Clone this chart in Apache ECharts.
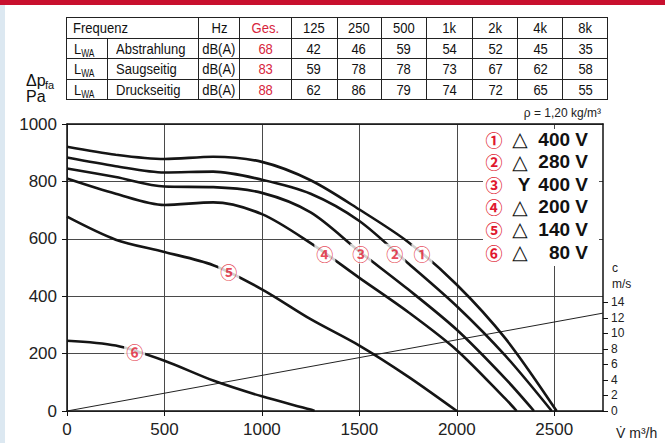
<!DOCTYPE html>
<html><head><meta charset="utf-8">
<script src="https://cdn.jsdelivr.net/npm/echarts@6/dist/echarts.min.js"></script>
<style>
html,body{margin:0;padding:0;background:#fff;}
#wrap{position:relative;width:665px;height:443px;overflow:hidden;background:#fff;}
#chart{position:absolute;left:0;top:0;width:665px;height:443px;}
#tbl{position:absolute;left:65.5px;top:17px;border-collapse:collapse;table-layout:fixed;
  font-family:"Liberation Sans",Arial,sans-serif;font-size:15.5px;color:#111;z-index:2;}
#tbl td{border:1.2px solid #222;padding:0;height:19.6px;text-align:center;line-height:19px;white-space:nowrap;overflow:hidden;}
#tbl td span{display:inline-block;transform:scaleX(0.84);transform-origin:center;}
#tbl td.l{text-align:left;padding-left:6px;}
#tbl td.l span{transform-origin:left center;}
#tbl td.red{color:#d7263d;}
#tbl sub{font-size:10px;vertical-align:-3px;line-height:0;}
</style></head>
<body><div id="wrap"><div id="chart"></div><table id="tbl"></table></div>
<script>
// ---------- table data ----------
const tableHeader = ['Hz','Ges.','125','250','500','1k','2k','4k','8k'];
const rowNames = ['Abstrahlung','Saugseitig','Druckseitig'];
const rowUnit = 'dB(A)';
const gesValues = [68, 83, 88];
const bandAbstrahlung = [42, 46, 59, 54, 52, 45, 35];
const bandSaugseitig = [59, 78, 78, 73, 67, 62, 58];
const bandDruckseitig = [62, 86, 79, 74, 72, 65, 55];

// ---------- chart data (V m3/h, Δp Pa) ----------
const curve1_400D = [[0,921],[250,893],[500,878],[750,886],[1000,868],[1250,804],[1500,702],[1750,589],[2000,440],[2250,252],[2512,0]];
const curve2_280D = [[0,883],[250,853],[500,831],[750,834],[1000,806],[1250,757],[1500,662],[1750,515],[2000,365],[2250,192],[2487,0]];
const curve3_400Y = [[0,845],[250,815],[500,782],[750,780],[1000,760],[1250,692],[1500,556],[1750,424],[2000,283],[2250,112],[2396,0]];
const curve4_200D = [[0,810],[250,757],[500,718],[750,727],[1000,686],[1250,585],[1500,464],[1750,345],[2000,212],[2250,42],[2307,0]];
const curve5_140D = [[0,677],[250,597],[500,554],[750,508],[1000,424],[1250,320],[1500,228],[1750,120],[2000,0]];
const curve6_80D  = [[0,245],[250,228],[500,175],[750,106],[1000,51],[1250,5],[1270,0]];
const velocityLine = [[0,0],[2750,12.6]];   // c in m/s
const curveLabels = [[1821,548,'①'],[1682,548,'②'],[1507,548,'③'],[1323,548,'④'],[830,485,'⑤'],[347,209,'⑥']];

const xTicks = [0,500,1000,1500,2000,2500];
const yTicks = [0,200,400,600,800,1000];
const cTicks = [0,2,4,6,8,10,12,14];

const legendNum = ['①','②','③','④','⑤','⑥'];
const legendConn = ['△','△','Y','△','△','△'];
const legendVolt = ['400 V','280 V','400 V','200 V','140 V','80 V'];

// ---------- build table ----------
(function(){
  const widths = [41,87.3,39.3,51.7,46,44,45,46.7,45,45,45];
  const t = document.getElementById('tbl');
  const s = x => '<span>'+x+'</span>';
  let h = '<colgroup>' + widths.map(w=>'<col style="width:'+w+'px">').join('') + '</colgroup>';
  h += '<tr><td class="l" colspan="2">'+s('Frequenz')+'</td>' + tableHeader.map((v,i)=>'<td'+(i===1?' class="red"':'')+'>'+s(v)+'</td>').join('') + '</tr>';
  const bands = [bandAbstrahlung, bandSaugseitig, bandDruckseitig];
  rowNames.forEach((n,r)=>{
    h += '<tr><td class="l" style="padding-left:7px">'+s('L<sub>WA</sub>')+'</td><td class="l" style="padding-left:8px">'+s(n)+'</td><td>'+s(rowUnit)+'</td><td class="red">'+s(gesValues[r])+'</td>' + bands[r].map(v=>'<td>'+s(v)+'</td>').join('') + '</tr>';
  });
  t.innerHTML = h;
})();

// ---------- chart ----------
const FONT = '"Liberation Sans", Arial, sans-serif';
const CIRC = '"Noto Sans CJK JP","DejaVu Sans",sans-serif';
const chart = echarts.init(document.getElementById('chart'), null, {renderer:'svg'});
const cMax = 1000/27.07;
const gridCol = '#4a4a4a';

function curve(data){
  return {type:'line', data:data, smooth:0.3, showSymbol:false, silent:true, z:3,
    lineStyle:{color:'#151515', width:2.6}};
}

const graphics = [
  {type:'rect', shape:{x:0,y:0,width:665,height:5}, style:{fill:'#c8102e'}, z:100},
  {type:'rect', shape:{x:0,y:5,width:5,height:438}, style:{fill:'#dce8f1'}, z:100},
  {type:'rect', shape:{x:483,y:129,width:116,height:137}, style:{fill:'#fff'}, z:50},
  {type:'text', x:26, y:80, style:{text:'Δp', font:'16px '+FONT, fill:'#111', verticalAlign:'middle'}, z:100},
  {type:'text', x:45, y:85, style:{text:'fa', font:'11px '+FONT, fill:'#111', verticalAlign:'middle'}, z:100},
  {type:'text', x:26, y:96, style:{text:'Pa', font:'16px '+FONT, fill:'#111', verticalAlign:'middle'}, z:100},
  {type:'text', x:601, y:113, style:{text:'ρ = 1,20 kg/m³', font:'12px '+FONT, fill:'#222', align:'right', verticalAlign:'middle'}, z:100},
  {type:'text', x:612, y:268, style:{text:'c', font:'12px '+FONT, fill:'#222', verticalAlign:'middle'}, z:100},
  {type:'text', x:612, y:284, style:{text:'m/s', font:'12px '+FONT, fill:'#222', verticalAlign:'middle'}, z:100},
  {type:'text', x:616, y:433, style:{text:'V\u0307 m³/h', font:'14px '+FONT, fill:'#222', verticalAlign:'middle'}, z:100}
];
legendNum.forEach((n,i)=>{
  const y = 139 + i*22.6;
  graphics.push({type:'text', x:494, y:y, style:{text:n, font:'bold 17px '+CIRC, lineHeight:18, fill:'#e0192f', align:'center', verticalAlign:'middle'}, z:60});
  const isY = legendConn[i]==='Y';
  graphics.push({type:'text', x:isY?524:520, y:y, style:{text:legendConn[i], font:isY?('bold 19px '+FONT):('20px "DejaVu Sans",'+FONT), lineHeight:19, fill:'#111', align:'center', verticalAlign:'middle'}, z:60});
  graphics.push({type:'text', x:588, y:y, style:{text:legendVolt[i], font:'bold 19px '+FONT, lineHeight:19, fill:'#111', align:'right', verticalAlign:'middle'}, z:60});
});

const option = {
  animation:false,
  backgroundColor:'#fff',
  grid:{left:67, top:124, width:536, height:287, containLabel:false},
  xAxis:[{
    type:'value', min:0, max:2750, interval:250,
    axisLine:{show:true, onZero:false, lineStyle:{color:'#111', width:1.5}},
    axisTick:{show:true, customValues:xTicks, length:5, lineStyle:{color:'#111'}},
    axisLabel:{customValues:xTicks, fontSize:17, color:'#222', margin:10, fontFamily:FONT,
      formatter:v=> (v%500===0 && v<=2500) ? String(v) : ''},
    splitLine:{show:true, lineStyle:{color:gridCol, width:1}}
  },{
    type:'value', position:'top', min:0, max:2750,
    axisLine:{show:true, onZero:false, lineStyle:{color:'#111', width:1.5}},
    axisTick:{show:false}, axisLabel:{show:false}, splitLine:{show:false}
  }],
  yAxis:[{
    type:'value', min:0, max:1000, interval:100,
    axisLine:{show:true, onZero:false, lineStyle:{color:'#111', width:1.5}},
    axisTick:{show:true, customValues:yTicks, length:5, lineStyle:{color:'#111'}},
    axisLabel:{customValues:yTicks, fontSize:17, color:'#222', margin:10, fontFamily:FONT,
      formatter:v=> v%200===0 ? String(v) : ''},
    splitLine:{show:true, lineStyle:{color:gridCol, width:1}}
  },{
    type:'value', position:'right', min:0, max:cMax, interval:2,
    axisLine:{show:true, onZero:false, lineStyle:{color:'#111', width:1.5}},
    axisTick:{show:true, customValues:cTicks, length:5, lineStyle:{color:'#111'}},
    axisLabel:{customValues:cTicks, fontSize:12, color:'#222', margin:8, fontFamily:FONT,
      formatter:v=> v<=14 ? String(v) : ''},
    splitLine:{show:false}
  }],
  series:[
    curve(curve1_400D), curve(curve2_280D), curve(curve3_400Y),
    curve(curve4_200D), curve(curve5_140D), curve(curve6_80D),
    {type:'line', yAxisIndex:1, data:velocityLine, showSymbol:false, silent:true, z:2,
      lineStyle:{color:'#222', width:1}},
    {type:'scatter', data:curveLabels, symbol:'circle', symbolSize:2, itemStyle:{color:'rgba(255,255,255,0)'}, z:10, silent:true,
      label:{show:true, position:'inside', formatter:p=>p.value[2], color:'#e0192f',
        fontSize:17, fontWeight:'bold', lineHeight:18, fontFamily:CIRC, backgroundColor:'#fff', padding:[1,2]}}
  ],
  graphic:graphics
};
chart.setOption(option);
</script></body></html>
